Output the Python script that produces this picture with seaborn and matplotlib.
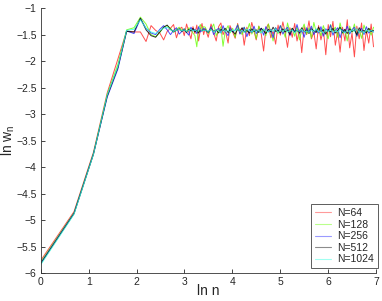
import numpy as np
import pandas as pd
import matplotlib
matplotlib.use("Agg")
import matplotlib.pyplot as plt
import seaborn as sns

# ---- data ----
n_values = [1, 2, 3, 4, 5, 6, 7, 8, 9, 10,
            11, 12, 13, 14, 15, 16, 17, 18, 19, 20,
            21, 22, 23, 24, 25, 26, 27, 28, 29, 30,
            31, 33, 35, 37, 39, 41, 43, 45, 47, 50,
            52, 55, 58, 61, 64, 67, 70, 74, 78, 82,
            86, 90, 95, 100, 105, 110, 116, 122, 128, 135,
            142, 149, 157, 165, 173, 182, 191, 201, 211, 222,
            233, 245, 258, 271, 285, 300, 315, 331, 348, 366,
            385, 405, 425, 447, 470, 494, 519, 546, 574, 603,
            634, 666, 700, 736, 774, 813, 855, 899, 945, 993,
            1044]

series_labels = ["N=64", "N=128", "N=256", "N=512", "N=1024"]

lnw_N64 = [-5.76, -4.84, -3.72, -2.60, -1.96, -1.43, -1.45, -1.45, -1.63, -1.33,
           -1.42, -1.47, -1.60, -1.44, -1.38, -1.31, -1.56, -1.40, -1.36, -1.52,
           -1.30, -1.45, -1.58, -1.35, -1.48, -1.32, -1.62, -1.40, -1.29, -1.50,
           -1.38, -1.55, -1.30, -1.47, -1.62, -1.35, -1.28, -1.50, -1.41, -1.66,
           -1.33, -1.45, -1.57, -1.29, -1.48, -1.38, -1.70, -1.36, -1.52, -1.27,
           -1.44, -1.60, -1.34, -1.49, -1.81, -1.39, -1.30, -1.56, -1.43, -1.68,
           -1.32, -1.51, -1.26, -1.47, -1.74, -1.37, -1.55, -1.29, -1.62, -1.41,
           -1.84, -1.35, -1.50, -1.24, -1.58, -1.45, -1.77, -1.33, -1.60, -1.40,
           -1.88, -1.31, -1.54, -1.25, -1.70, -1.43, -1.83, -1.36, -1.62, -1.22,
           -1.75, -1.47, -1.92, -1.34, -1.58, -1.28, -1.80, -1.42, -1.66, -1.30,
           -1.73]

lnw_N128 = [-5.79, -4.86, -3.74, -2.63, -2.06, -1.41, -1.37, -1.17, -1.30, -1.50,
            -1.54, -1.46, -1.36, -1.33, -1.38, -1.45, -1.40, -1.36, -1.42, -1.39,
            -1.44, -1.37, -1.41, -1.47, -1.52, -1.73, -1.38, -1.31, -1.40, -1.35,
            -1.36, -1.48, -1.40, -1.30, -1.52, -1.42, -1.35, -1.72, -1.44, -1.33,
            -1.47, -1.38, -1.55, -1.31, -1.43, -1.50, -1.36, -1.45, -1.29, -1.49,
            -1.40, -1.58, -1.34, -1.46, -1.39, -1.52, -1.30, -1.44, -1.62, -1.37,
            -1.48, -1.33, -1.41, -1.55, -1.28, -1.46, -1.38, -1.53, -1.35, -1.60,
            -1.42, -1.30, -1.49, -1.37, -1.56, -1.27, -1.45, -1.39, -1.52, -1.33,
            -1.47, -1.58, -1.31, -1.43, -1.36, -1.55, -1.28, -1.48, -1.40, -1.62,
            -1.34, -1.46, -1.30, -1.53, -1.41, -1.57, -1.32, -1.45, -1.38, -1.51,
            -1.36]

lnw_N256 = [-5.81, -4.87, -3.75, -2.68, -2.15, -1.43, -1.48, -1.20, -1.38, -1.47,
            -1.50, -1.40, -1.33, -1.41, -1.50, -1.42, -1.37, -1.49, -1.44, -1.39,
            -1.46, -1.51, -1.36, -1.43, -1.40, -1.48, -1.35, -1.45, -1.42, -1.38,
            -1.40, -1.46, -1.35, -1.50, -1.42, -1.38, -1.47, -1.33, -1.44, -1.52,
            -1.37, -1.45, -1.41, -1.32, -1.49, -1.43, -1.36, -1.54, -1.40, -1.46,
            -1.34, -1.48, -1.42, -1.38, -1.51, -1.35, -1.45, -1.40, -1.56, -1.37,
            -1.44, -1.33, -1.49, -1.41, -1.36, -1.52, -1.39, -1.46, -1.31, -1.48,
            -1.42, -1.55, -1.37, -1.45, -1.34, -1.50, -1.40, -1.47, -1.35, -1.53,
            -1.39, -1.44, -1.32, -1.51, -1.42, -1.37, -1.56, -1.40, -1.46, -1.34,
            -1.49, -1.41, -1.36, -1.53, -1.43, -1.38, -1.50, -1.35, -1.47, -1.42,
            -1.45]

lnw_N512 = [-5.82, -4.88, -3.76, -2.66, -2.12, -1.44, -1.45, -1.19, -1.41, -1.52,
            -1.55, -1.45, -1.36, -1.32, -1.40, -1.45, -1.42, -1.39, -1.44, -1.41,
            -1.46, -1.40, -1.43, -1.38, -1.45, -1.42, -1.47, -1.40, -1.43, -1.41,
            -1.42, -1.45, -1.39, -1.44, -1.41, -1.47, -1.40, -1.43, -1.38, -1.46,
            -1.41, -1.44, -1.49, -1.40, -1.43, -1.37, -1.45, -1.42, -1.47, -1.39,
            -1.44, -1.41, -1.46, -1.38, -1.43, -1.48, -1.40, -1.45, -1.36, -1.44,
            -1.42, -1.47, -1.39, -1.45, -1.41, -1.50, -1.38, -1.44, -1.42, -1.46,
            -1.37, -1.45, -1.41, -1.48, -1.39, -1.43, -1.46, -1.36, -1.44, -1.41,
            -1.49, -1.40, -1.45, -1.38, -1.47, -1.42, -1.36, -1.46, -1.40, -1.48,
            -1.39, -1.44, -1.41, -1.50, -1.37, -1.45, -1.42, -1.47, -1.38, -1.44,
            -1.42]

lnw_N1024 = [-5.84, -4.89, -3.76, -2.64, -2.10, -1.42, -1.40, -1.22, -1.38, -1.45,
             -1.48, -1.42, -1.38, -1.36, -1.41, -1.44, -1.42, -1.40, -1.43, -1.41,
             -1.44, -1.42, -1.40, -1.43, -1.41, -1.44, -1.42, -1.40, -1.43, -1.42,
             -1.42, -1.44, -1.40, -1.45, -1.41, -1.43, -1.46, -1.40, -1.44, -1.42,
             -1.45, -1.41, -1.43, -1.39, -1.44, -1.42, -1.46, -1.40, -1.43, -1.45,
             -1.41, -1.44, -1.42, -1.47, -1.40, -1.43, -1.45, -1.41, -1.44, -1.39,
             -1.46, -1.42, -1.44, -1.40, -1.45, -1.43, -1.41, -1.47, -1.42, -1.44,
             -1.40, -1.45, -1.43, -1.46, -1.41, -1.44, -1.39, -1.45, -1.42, -1.47,
             -1.41, -1.44, -1.40, -1.46, -1.43, -1.45, -1.40, -1.44, -1.47, -1.42,
             -1.45, -1.41, -1.44, -1.39, -1.46, -1.43, -1.47, -1.41, -1.44, -1.42,
             -1.45]

x_ticks = [0, 1, 2, 3, 4, 5, 6, 7]
y_ticks = [-6, -5.5, -5, -4.5, -4, -3.5, -3, -2.5, -2, -1.5, -1]
y_tick_labels = ["\u22126", "\u22125.5", "\u22125", "\u22124.5", "\u22124", "\u22123.5",
                 "\u22123", "\u22122.5", "\u22122", "\u22121.5", "\u22121"]

# ---- build long table ----
all_series = [lnw_N64, lnw_N128, lnw_N256, lnw_N512, lnw_N1024]
frames = []
for lab, vals in zip(series_labels, all_series):
    frames.append(pd.DataFrame({"ln n": np.log(n_values), "ln w": vals, "N": lab}))
df = pd.concat(frames, ignore_index=True)

sns.set_style("ticks")
plt.rcParams["font.family"] = ["Liberation Sans", "DejaVu Sans"]

palette = {"N=64": "#ff2020", "N=128": "#66ff00", "N=256": "#2020ff",
           "N=512": "#000000", "N=1024": "#30ffe0"}

fig = plt.figure(figsize=(3.82, 3.01), dpi=100)
ax = fig.add_axes([0.107, 0.093, 0.877, 0.880])

sns.lineplot(data=df, x="ln n", y="ln w", hue="N", hue_order=series_labels,
             palette=palette, estimator=None, sort=False, linewidth=0.7,
             alpha=0.8, ax=ax, legend=True)

ax.set_xlim(0, 7)
ax.set_ylim(-6, -1)
ax.set_xticks(x_ticks)
ax.set_xticklabels([str(t) for t in x_ticks])
ax.set_yticks(y_ticks)
ax.set_yticklabels(y_tick_labels)
ax.tick_params(direction="in", length=3, width=0.6, labelsize=7.5, pad=3)
for s in ["top", "right"]:
    ax.spines[s].set_visible(False)
for s in ["left", "bottom"]:
    ax.spines[s].set_linewidth(0.6)
    ax.spines[s].set_color("#333333")

ax.set_xlabel("ln n", fontsize=10)
ax.set_ylabel(r"ln w$_{\mathregular{n}}$", fontsize=10)
ax.xaxis.set_label_coords(0.5, -0.042)
ax.yaxis.set_label_coords(-0.07, 0.5)

leg = ax.legend(loc="lower right", bbox_to_anchor=(1.006, 0.019), fontsize=7.5,
                frameon=True, fancybox=False, edgecolor="#333333",
                handlelength=1.6, handletextpad=0.6, labelspacing=0.15,
                borderpad=0.35, borderaxespad=0)
leg.get_frame().set_linewidth(0.7)
for line in leg.get_lines():
    line.set_linewidth(0.8)
    line.set_alpha(0.45)

fig.savefig("out.png", dpi=100)
